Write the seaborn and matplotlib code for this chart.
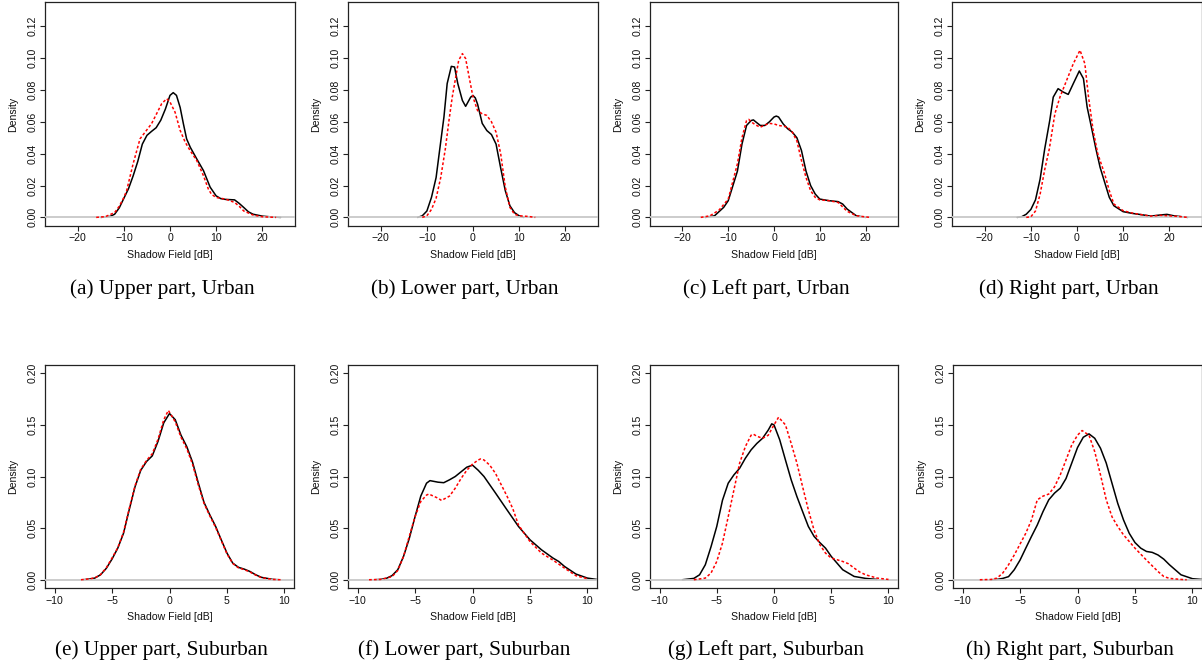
import numpy as np
import pandas as pd
import matplotlib
matplotlib.use("Agg")
import matplotlib.pyplot as plt
import seaborn as sns

# ---------------- data ----------------
captions = ["(a) Upper part, Urban", "(b) Lower part, Urban", "(c) Left part, Urban",
            "(d) Right part, Urban", "(e) Upper part, Suburban", "(f) Lower part, Suburban",
            "(g) Left part, Suburban", "(h) Right part, Suburban"]

# (a) Upper / Urban
a_blk_x = [-15, -13, -12, -11, -10, -9, -8, -7, -6, -5, -4, -3, -2, -1, 0, 0.7, 1.4, 2.2, 2.9, 3.6, 4.4, 5.8, 7.25, 8.7, 10, 11, 12, 14, 15, 16, 17, 18, 20, 22, 24]
a_blk_y = [0, 0.0006, 0.002, 0.006, 0.012, 0.018, 0.026, 0.035, 0.046, 0.0515, 0.054, 0.0563, 0.061, 0.068, 0.0766, 0.0783, 0.0766, 0.069, 0.0588, 0.0493, 0.044, 0.0367, 0.0294, 0.019, 0.0135, 0.0118, 0.0113, 0.011, 0.0088, 0.0062, 0.0035, 0.002, 0.0008, 0.0003, 0]
a_red_x = [-16, -14, -12, -11, -10, -9.4, -8, -6.5, -5.4, -4, -2.9, -1.8, -0.7, 0, 1.1, 2.2, 3.3, 4.35, 5.8, 7.25, 8.3, 9, 10, 12, 14, 15, 16, 18, 20, 23]
a_red_y = [0, 0.0005, 0.003, 0.007, 0.0125, 0.0168, 0.0336, 0.0493, 0.0535, 0.0588, 0.0651, 0.0714, 0.0745, 0.0724, 0.066, 0.0546, 0.0472, 0.042, 0.0357, 0.0262, 0.0179, 0.0145, 0.0125, 0.0115, 0.0094, 0.007, 0.004, 0.0015, 0.0004, 0]

# (b) Lower / Urban
b_blk_x = [-12, -11, -10, -9, -8, -7.2, -6.3, -5.6, -4.7, -4, -3.3, -2.3, -1.6, -0.9, -0.5, 0, 0.5, 1, 2, 3, 4, 5, 6, 7, 8, 9, 10, 11]
b_blk_y = [0, 0.001, 0.004, 0.0126, 0.025, 0.043, 0.063, 0.084, 0.0948, 0.0944, 0.084, 0.0734, 0.0697, 0.0734, 0.0755, 0.0765, 0.075, 0.071, 0.059, 0.0545, 0.052, 0.046, 0.031, 0.0168, 0.0073, 0.003, 0.001, 0]
b_red_x = [-11, -10, -9, -8, -7, -6, -5.2, -4.5, -3.8, -3.1, -2.3, -1.6, -0.7, 0, 1, 2, 3, 4, 5, 6, 7, 8, 9, 10, 12, 13.5]
b_red_y = [0, 0.001, 0.005, 0.012, 0.025, 0.043, 0.061, 0.0755, 0.0871, 0.0986, 0.1028, 0.0997, 0.086, 0.0755, 0.067, 0.065, 0.064, 0.060, 0.0535, 0.040, 0.019, 0.0063, 0.002, 0.001, 0.0006, 0]

# (c) Left / Urban
c_blk_x = [-15, -13, -11, -10, -8, -7, -6, -5, -4.5, -4, -3, -2, -1, 0, 0.5, 1, 2, 3, 4, 5, 6, 7, 8, 9, 10, 12, 14, 15, 16, 18, 20]
c_blk_y = [0, 0.001, 0.0063, 0.0105, 0.029, 0.046, 0.0577, 0.0608, 0.0612, 0.060, 0.0577, 0.0577, 0.060, 0.063, 0.0636, 0.063, 0.0587, 0.0556, 0.0535, 0.050, 0.042, 0.029, 0.020, 0.0147, 0.0115, 0.0105, 0.0099, 0.0084, 0.0052, 0.001, 0]
c_red_x = [-16, -14, -12, -10, -8, -7, -6, -5.5, -5, -4, -3, -2, -1, 0, 1, 2, 3, 4, 5, 6, 7, 8, 9, 10, 12, 14, 16, 18, 21]
c_red_y = [0, 0.001, 0.0046, 0.0115, 0.0336, 0.050, 0.0608, 0.0615, 0.060, 0.058, 0.0566, 0.058, 0.059, 0.0587, 0.0577, 0.0573, 0.0566, 0.0535, 0.048, 0.0357, 0.025, 0.0168, 0.0126, 0.011, 0.0105, 0.0094, 0.0038, 0.001, 0]

# (d) Right / Urban
d_blk_x = [-13, -12, -11, -10, -9, -8, -7, -5.9, -5.15, -4.1, -3, -1.9, -0.8, 0.5, 1.4, 2.2, 3.2, 4.1, 5, 6, 7, 8, 10, 12, 14, 16, 18, 19.5, 21, 24]
d_blk_y = [0, 0.0004, 0.002, 0.005, 0.011, 0.024, 0.043, 0.061, 0.0755, 0.0808, 0.0787, 0.0772, 0.084, 0.0919, 0.0871, 0.0692, 0.0556, 0.043, 0.0315, 0.022, 0.0126, 0.0073, 0.0036, 0.0025, 0.0017, 0.0008, 0.0015, 0.0019, 0.001, 0]
d_red_x = [-11, -10, -9, -8, -7, -6, -4.8, -3.7, -2.25, -0.8, 0.65, 1.7, 2.5, 3.5, 4.5, 5, 6, 7, 8, 10, 12, 14, 16, 18, 20, 22, 24]
d_red_y = [0, 0.0004, 0.004, 0.0145, 0.030, 0.043, 0.065, 0.0755, 0.086, 0.0965, 0.1049, 0.0965, 0.0755, 0.0546, 0.040, 0.0357, 0.0273, 0.0168, 0.0084, 0.0042, 0.0027, 0.0017, 0.0008, 0.0013, 0.001, 0.0006, 0]

# (e) Upper / Suburban
e_blk_x = [-7.5, -7, -6.5, -6, -5.5, -5, -4.5, -4, -3.5, -3, -2.5, -2, -1.5, -1, -0.5, 0, 0.5, 1, 1.5, 2, 2.5, 3, 3.5, 4, 4.5, 5, 5.5, 6, 6.5, 7, 7.5, 8, 9, 9.5]
e_blk_y = [0, 0.0006, 0.0016, 0.0048, 0.011, 0.020, 0.0306, 0.045, 0.068, 0.090, 0.106, 0.1145, 0.120, 0.134, 0.152, 0.161, 0.155, 0.140, 0.129, 0.114, 0.094, 0.075, 0.063, 0.052, 0.0387, 0.0258, 0.0161, 0.012, 0.0103, 0.008, 0.0048, 0.0023, 0.0003, 0]
e_red_x = [-7.7, -7, -6.5, -6, -5.5, -5, -4.5, -4, -3.5, -3, -2.5, -2, -1.5, -1, -0.5, -0.1, 0.5, 1, 1.5, 2, 2.5, 3, 3.5, 4, 4.5, 5, 5.5, 6, 6.5, 7, 7.5, 8, 9, 9.7]
e_red_y = [0, 0.0008, 0.0018, 0.005, 0.0115, 0.021, 0.031, 0.046, 0.069, 0.091, 0.107, 0.1155, 0.122, 0.136, 0.155, 0.164, 0.153, 0.138, 0.127, 0.112, 0.092, 0.074, 0.062, 0.051, 0.038, 0.025, 0.0158, 0.0115, 0.0098, 0.0075, 0.0045, 0.002, 0.0003, 0]

# (f) Lower / Suburban
f_blk_x = [-8.5, -8, -7.5, -7, -6.5, -6, -5.5, -5, -4.5, -4, -3.7, -3, -2.5, -2, -1.5, -1, -0.5, 0, 0.5, 1, 1.5, 2, 3, 4, 5, 6, 7, 7.5, 8, 9, 10, 10.8]
f_blk_y = [0, 0.0003, 0.0013, 0.004, 0.0097, 0.0226, 0.040, 0.061, 0.081, 0.0935, 0.096, 0.0945, 0.094, 0.0968, 0.100, 0.1045, 0.109, 0.111, 0.106, 0.100, 0.092, 0.084, 0.0677, 0.0516, 0.0387, 0.029, 0.021, 0.0177, 0.0129, 0.0055, 0.0016, 0.0003]
f_red_x = [-9, -8, -7, -6.5, -6, -5.5, -5, -4.5, -4, -3.8, -3, -2.7, -2, -1.5, -1, -0.5, 0, 0.5, 0.7, 1, 1.5, 2, 2.5, 3, 3.5, 4, 5, 6, 7, 8, 9, 10]
f_red_y = [0, 0.0003, 0.003, 0.009, 0.0226, 0.042, 0.061, 0.0758, 0.082, 0.083, 0.079, 0.0768, 0.081, 0.0887, 0.098, 0.106, 0.112, 0.116, 0.117, 0.116, 0.111, 0.103, 0.092, 0.081, 0.069, 0.053, 0.037, 0.0258, 0.019, 0.0113, 0.0039, 0.001]

# (g) Left / Suburban
g_blk_x = [-8, -7, -6.5, -6, -5.5, -5, -4.5, -4, -3.5, -3, -2.5, -2, -1.5, -1, -0.5, -0.2, 0, 0.5, 1, 1.5, 2, 2.5, 3, 3.5, 4, 4.5, 5, 6, 7, 8, 9]
g_blk_y = [0, 0.0013, 0.0048, 0.0145, 0.032, 0.0516, 0.077, 0.0935, 0.1016, 0.108, 0.1177, 0.1258, 0.132, 0.137, 0.145, 0.151, 0.150, 0.1355, 0.116, 0.0968, 0.0806, 0.066, 0.0516, 0.042, 0.036, 0.0306, 0.0226, 0.0097, 0.0032, 0.0013, 0.0003]
g_red_x = [-7, -6, -5.5, -5, -4.5, -4, -3.5, -3, -2.5, -2, -1.8, -1.5, -1, -0.5, 0, 0.4, 1, 1.5, 2, 2.5, 3, 3.5, 4, 4.5, 5, 5.5, 6, 6.5, 7, 7.5, 8, 9, 10]
g_red_y = [0, 0.0016, 0.0065, 0.0177, 0.0355, 0.061, 0.087, 0.113, 0.129, 0.140, 0.141, 0.139, 0.137, 0.140, 0.150, 0.1574, 0.150, 0.132, 0.113, 0.090, 0.0677, 0.048, 0.034, 0.0258, 0.021, 0.0194, 0.0177, 0.0155, 0.0113, 0.0074, 0.0048, 0.0016, 0.0003]

# (h) Right / Suburban
h_blk_x = [-7.5, -7, -6.5, -6, -5.5, -5, -4.5, -4, -3.5, -3, -2.5, -2, -1.5, -1, -0.5, 0, 0.5, 1, 1.5, 2, 2.5, 3, 3.5, 4, 4.5, 5, 5.5, 6, 6.5, 7, 7.5, 8, 9, 10, 10.8]
h_blk_y = [0, 0.0003, 0.0013, 0.003, 0.0097, 0.019, 0.0306, 0.042, 0.053, 0.066, 0.0774, 0.0839, 0.0887, 0.098, 0.113, 0.128, 0.138, 0.1413, 0.137, 0.1274, 0.113, 0.0935, 0.074, 0.058, 0.045, 0.036, 0.0306, 0.0274, 0.0265, 0.024, 0.020, 0.0145, 0.0048, 0.001, 0.0003]
h_red_x = [-8.5, -7.5, -7, -6.5, -6, -5.5, -5, -4.5, -4, -3.5, -3, -2.5, -2, -1.5, -1, -0.5, 0, 0.4, 1, 1.5, 2, 2.5, 3, 3.5, 4, 5, 6, 7, 7.5, 8, 9, 9.5]
h_red_y = [0, 0.0003, 0.0016, 0.0065, 0.0145, 0.024, 0.0345, 0.045, 0.058, 0.0774, 0.081, 0.083, 0.090, 0.1016, 0.116, 0.1306, 0.140, 0.1445, 0.140, 0.124, 0.1016, 0.0774, 0.061, 0.0516, 0.0435, 0.0306, 0.019, 0.008, 0.0032, 0.0013, 0.0003, 0]

urban_xticks = [-20, -10, 0, 10, 20]
urban_yticks = [0.00, 0.02, 0.04, 0.06, 0.08, 0.10, 0.12]
suburban_xticks = [-10, -5, 0, 5, 10]
suburban_yticks = [0.00, 0.05, 0.10, 0.15, 0.20]

panels = [
    (a_blk_x, a_blk_y, a_red_x, a_red_y),
    (b_blk_x, b_blk_y, b_red_x, b_red_y),
    (c_blk_x, c_blk_y, c_red_x, c_red_y),
    (d_blk_x, d_blk_y, d_red_x, d_red_y),
    (e_blk_x, e_blk_y, e_red_x, e_red_y),
    (f_blk_x, f_blk_y, f_red_x, f_red_y),
    (g_blk_x, g_blk_y, g_red_x, g_red_y),
    (h_blk_x, h_blk_y, h_red_x, h_red_y),
]

# ---------------- figure ----------------
sns.set_style("ticks")
plt.rcParams['font.family'] = ['Liberation Sans', 'DejaVu Sans']
plt.rcParams['lines.solid_joinstyle'] = 'round'
plt.rcParams['lines.dash_joinstyle'] = 'round'

W, H = 1202, 668
fig = plt.figure(figsize=(W / 100, H / 100), dpi=100)

# pixel boxes (left, top, right, bottom)
boxes = [(45, 2, 295, 226), (348, 2, 598, 226), (650, 2, 898, 226), (952, 2, 1202, 226),
         (45, 365, 294, 588), (348, 365, 597, 588), (650, 365, 898, 588), (953, 365, 1202, 588)]

txt_col = "#111111"
for i, ((bx, by, rx, ry), (l, t, r, b)) in enumerate(zip(panels, boxes)):
    ax = fig.add_axes([l / W, 1 - b / H, (r - l) / W, (b - t) / H])
    urban = i < 4
    sns.lineplot(x=bx, y=by, ax=ax, color="black", lw=1.1, sort=False, estimator=None, zorder=3)
    ax.axhline(0, color="#C8C8C8", lw=1.3, zorder=4)
    sns.lineplot(x=rx, y=ry, ax=ax, color="#FF0000", lw=1.1, sort=False, estimator=None,
                 linestyle=(0, (1.8, 1.4)), zorder=5)
    if urban:
        ax.set_xlim(-27.1, 27.1)
        ax.set_ylim(-0.0054, 0.1352)
        ax.set_xticks(urban_xticks)
        ax.set_yticks(urban_yticks)
        ax.set_yticklabels([f"{v:.2f}" for v in urban_yticks])
    else:
        ax.set_xlim(-10.83, 10.83)
        ax.set_ylim(-0.008, 0.208)
        ax.set_xticks(suburban_xticks)
        ax.set_yticks(suburban_yticks)
        ax.set_yticklabels([f"{v:.2f}" for v in suburban_yticks])
    ax.set_xticklabels([f"{v:d}".replace("-", "\u2212") for v in (urban_xticks if urban else suburban_xticks)])
    for s in ax.spines.values():
        s.set_visible(True)
        s.set_color("#222222")
        s.set_linewidth(0.9)
    ax.tick_params(axis="both", direction="out", length=3.6, width=0.8, color="#222222",
                   labelsize=7.6, labelcolor=txt_col, pad=1.8)
    ax.tick_params(axis="y", labelrotation=90)
    for lab in ax.get_yticklabels():
        lab.set_va("center")
    ax.set_xlabel("Shadow Field [dB]", fontsize=7.6, color=txt_col)
    ax.set_ylabel("Density", fontsize=7.6, color=txt_col)
    hpx = b - t
    ax.xaxis.set_label_coords(0.5, -24.5 / hpx)
    ax.xaxis.label.set_va("top")
    ax.yaxis.set_label_coords(-26.5 / (r - l), 0.5)
    ax.grid(False)
    # caption
    cx = (l + r) / 2 - 8
    cy = 289 if urban else 650
    fig.text(cx / W, 1 - cy / H, captions[i], ha="center", va="center",
             fontsize=15.3, family=["Liberation Serif", "DejaVu Serif"], color="black")

fig.savefig("out.png", dpi=100)
